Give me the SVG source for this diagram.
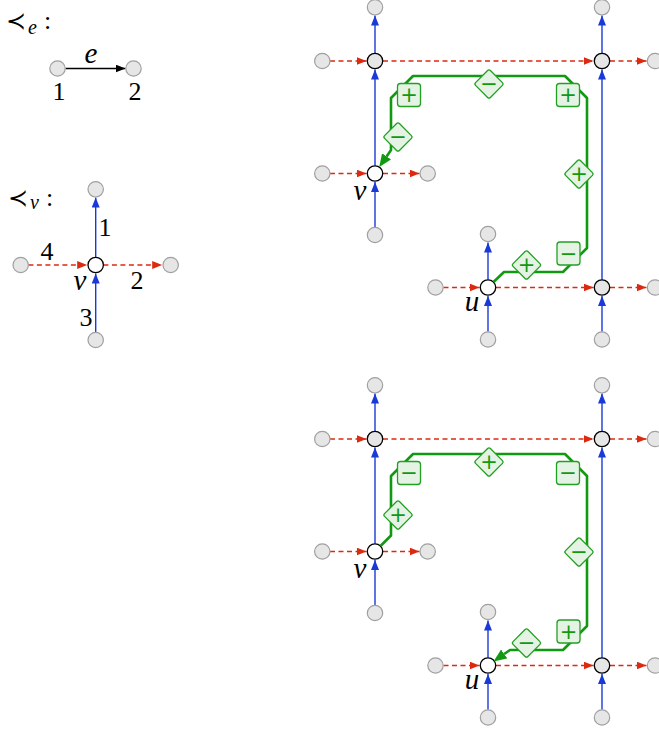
<svg xmlns="http://www.w3.org/2000/svg" width="659" height="733" viewBox="0 0 659 733">
<style>
.g{fill:#e6e6e6;stroke:#a0a0a0;stroke-width:1.2}
.k{fill:#e6e6e6;stroke:#000;stroke-width:1.3}
.w{fill:#fff;stroke:#000;stroke-width:1.3}
.b{stroke:#1a3ad8;stroke-width:1.4;fill:none;marker-end:url(#ab)}
.r{stroke:#dc2a10;stroke-width:1.4;fill:none;stroke-dasharray:5 3.5;marker-end:url(#ar)}
.gp{stroke:#119911;stroke-width:2.6;fill:none;stroke-linejoin:round;marker-end:url(#ag)}
.lb{fill:#e4f3e4;stroke:#22a022;stroke-width:1.3}
.ls{font-family:"DejaVu Sans",sans-serif;font-size:21px;fill:#119911;text-anchor:middle;dominant-baseline:central}
.t{font-family:"Liberation Serif","DejaVu Serif",serif;font-size:26px;fill:#000}
.i{font-family:"Liberation Serif","DejaVu Serif",serif;font-style:italic;font-size:29px;fill:#000}
.m{font-family:"DejaVu Sans",sans-serif;font-size:24px;fill:#000}
</style>
<defs>
<marker id="ab" markerUnits="userSpaceOnUse" markerWidth="12" markerHeight="10" refX="10" refY="4" orient="auto"><path d="M0,0 L10,4 L0,8 z" fill="#1a3ad8"/></marker>
<marker id="ar" markerUnits="userSpaceOnUse" markerWidth="12" markerHeight="10" refX="10" refY="4" orient="auto"><path d="M0,0 L10,4 L0,8 z" fill="#dc2a10"/></marker>
<marker id="ak" markerUnits="userSpaceOnUse" markerWidth="12" markerHeight="10" refX="10" refY="4" orient="auto"><path d="M0,0 L10,4 L0,8 z" fill="#000"/></marker>
<marker id="ag" markerUnits="userSpaceOnUse" markerWidth="15" markerHeight="13" refX="0" refY="5.5" orient="auto"><path d="M0,0 L13,5.5 L0,11 z" fill="#119911"/></marker>
<rect id="sq" x="-11.5" y="-11.5" width="23" height="23" rx="3"/>
<rect id="dm" x="-10.5" y="-10.5" width="21" height="21" rx="2" transform="rotate(45)"/>
</defs>

<!-- Legend e -->
<g id="legend-e">
<text class="m" x="6" y="29">≺</text>
<text class="i" x="28" y="34" style="font-size:20px">e</text>
<text class="t" x="44" y="29">:</text>
</g>
<g id="legend-e-edge"><line x1="65.5" y1="68.5" x2="125.5" y2="68.5" stroke="#000" stroke-width="1.3" marker-end="url(#ak)"/>
<text class="i" x="91" y="63" text-anchor="middle">e</text></g>
<g id="le1"><circle class="g" cx="57.5" cy="68.5" r="7.7"/><text class="t" x="59" y="100" text-anchor="middle">1</text></g>
<g id="le2"><circle class="g" cx="133.5" cy="68.5" r="7.7"/><text class="t" x="135" y="100" text-anchor="middle">2</text></g>

<!-- Legend v -->
<g id="legend-v">
<text class="m" x="8" y="206">≺</text>
<text class="i" x="30" y="209" style="font-size:20px">v</text>
<text class="t" x="46" y="206">:</text>
</g>
<g id="legend-v-edges">
<line class="b" x1="95.7" y1="257.3" x2="95.7" y2="197.5"/>
<line class="b" x1="95.7" y1="332.3" x2="95.7" y2="273.5"/>
<line class="r" x1="28.4" y1="265" x2="87.2" y2="265"/>
<line class="r" x1="103.4" y1="265" x2="162.2" y2="265"/>
<text class="t" x="105" y="236" text-anchor="middle">1</text>
<text class="t" x="47" y="260" text-anchor="middle">4</text>
<text class="t" x="137" y="289" text-anchor="middle">2</text>
<text class="t" x="86" y="326" text-anchor="middle">3</text>
</g>
<g id="lv"><circle class="w" cx="95.7" cy="265" r="7.7"/><text class="i" x="80" y="290" text-anchor="middle">v</text></g>
<g id="lv1"><circle class="g" cx="95.7" cy="189.3" r="7.7"/></g>
<g id="lv4"><circle class="g" cx="20.7" cy="265" r="7.7"/></g>
<g id="lv2"><circle class="g" cx="170.7" cy="265" r="7.7"/></g>
<g id="lv3"><circle class="g" cx="95.7" cy="340" r="7.7"/></g>

<!-- Top diagram connectors -->
<g id="top-connectors">
<line class="b" x1="375" y1="165.8" x2="375" y2="69.5"/>
<line class="b" x1="375" y1="53.3" x2="375" y2="15.5"/>
<line class="b" x1="375" y1="227.3" x2="375" y2="182"/>
<line class="b" x1="488" y1="331.8" x2="488" y2="296"/>
<line class="b" x1="488" y1="279.8" x2="488" y2="242.5"/>
<line class="b" x1="602" y1="331.8" x2="602" y2="296"/>
<line class="b" x1="602" y1="279.8" x2="602" y2="69.5"/>
<line class="b" x1="602" y1="53.3" x2="602" y2="15.5"/>
<line class="r" x1="330" y1="61" x2="366.5" y2="61"/>
<line class="r" x1="383" y1="61" x2="593.5" y2="61"/>
<line class="r" x1="610" y1="61" x2="646.5" y2="61"/>
<line class="r" x1="330" y1="173.5" x2="366.5" y2="173.5"/>
<line class="r" x1="383" y1="173.5" x2="419.5" y2="173.5"/>
<line class="r" x1="443.5" y1="287.5" x2="479.5" y2="287.5"/>
<line class="r" x1="496" y1="287.5" x2="593.5" y2="287.5"/>
<line class="r" x1="610" y1="287.5" x2="646.5" y2="287.5"/>
</g>
<g id="top-nodes">
<g id="t-tl"><circle class="k" cx="375" cy="61" r="7.7"/></g>
<g id="t-tl-up"><circle class="g" cx="375" cy="7.3" r="7.7"/></g>
<g id="t-tl-left"><circle class="g" cx="322.3" cy="61" r="7.7"/></g>
<g id="t-tr"><circle class="k" cx="602" cy="61" r="7.7"/></g>
<g id="t-tr-up"><circle class="g" cx="602" cy="7.3" r="7.7"/></g>
<g id="t-tr-right"><circle class="g" cx="655" cy="61" r="7.7"/></g>
<g id="t-v"><circle class="w" cx="375" cy="173.5" r="7.7"/><text class="i" x="360" y="200" text-anchor="middle">v</text></g>
<g id="t-v-left"><circle class="g" cx="322.3" cy="173.5" r="7.7"/></g>
<g id="t-v-right"><circle class="g" cx="427.7" cy="173.5" r="7.7"/></g>
<g id="t-v-down"><circle class="g" cx="375" cy="235" r="7.7"/></g>
<g id="t-u"><circle class="w" cx="488" cy="287.5" r="7.7"/><text class="i" x="472" y="311" text-anchor="middle">u</text></g>
<g id="t-u-up"><circle class="g" cx="488" cy="234" r="7.7"/></g>
<g id="t-u-left"><circle class="g" cx="435.5" cy="287.5" r="7.7"/></g>
<g id="t-u-down"><circle class="g" cx="488" cy="339.5" r="7.7"/></g>
<g id="t-br"><circle class="k" cx="602" cy="287.5" r="7.7"/></g>
<g id="t-br-right"><circle class="g" cx="655" cy="287.5" r="7.7"/></g>
<g id="t-br-down"><circle class="g" cx="602" cy="339.5" r="7.7"/></g>
</g>
<g id="top-path">
<path class="gp" d="M493.5,282 L504,272 L563,272 L587,248 L587,98 L565,76 L413,76 L391,98 L391,150 L386.6,156.4"/>
<g class="lb"><use href="#sq" x="409" y="95"/><use href="#dm" x="489" y="84"/><use href="#sq" x="568" y="95"/><use href="#dm" x="398" y="137"/><use href="#dm" x="579" y="174"/><use href="#sq" x="568.5" y="253.5"/><use href="#dm" x="526.5" y="265"/></g>
<text class="ls" x="409" y="95">+</text><text class="ls" x="489" y="84">−</text><text class="ls" x="568" y="95">+</text><text class="ls" x="398" y="137">−</text><text class="ls" x="579" y="174">+</text><text class="ls" x="568.5" y="253.5">−</text><text class="ls" x="526.5" y="265">+</text>
</g>

<!-- Bottom diagram connectors -->
<g id="bottom-connectors">
<line class="b" x1="375" y1="543.8" x2="375" y2="447.5"/>
<line class="b" x1="375" y1="431.3" x2="375" y2="393.5"/>
<line class="b" x1="375" y1="605.3" x2="375" y2="560"/>
<line class="b" x1="488" y1="709.8" x2="488" y2="674"/>
<line class="b" x1="488" y1="657.8" x2="488" y2="620.5"/>
<line class="b" x1="602" y1="709.8" x2="602" y2="674"/>
<line class="b" x1="602" y1="657.8" x2="602" y2="447.5"/>
<line class="b" x1="602" y1="431.3" x2="602" y2="393.5"/>
<line class="r" x1="330" y1="439" x2="366.5" y2="439"/>
<line class="r" x1="383" y1="439" x2="593.5" y2="439"/>
<line class="r" x1="610" y1="439" x2="646.5" y2="439"/>
<line class="r" x1="330" y1="551.5" x2="366.5" y2="551.5"/>
<line class="r" x1="383" y1="551.5" x2="419.5" y2="551.5"/>
<line class="r" x1="443.5" y1="665.5" x2="479.5" y2="665.5"/>
<line class="r" x1="496" y1="665.5" x2="593.5" y2="665.5"/>
<line class="r" x1="610" y1="665.5" x2="646.5" y2="665.5"/>
</g>
<g id="bottom-nodes">
<g id="b-tl"><circle class="k" cx="375" cy="439" r="7.7"/></g>
<g id="b-tl-up"><circle class="g" cx="375" cy="385.3" r="7.7"/></g>
<g id="b-tl-left"><circle class="g" cx="322.3" cy="439" r="7.7"/></g>
<g id="b-tr"><circle class="k" cx="602" cy="439" r="7.7"/></g>
<g id="b-tr-up"><circle class="g" cx="602" cy="385.3" r="7.7"/></g>
<g id="b-tr-right"><circle class="g" cx="655" cy="439" r="7.7"/></g>
<g id="b-v"><circle class="w" cx="375" cy="551.5" r="7.7"/><text class="i" x="360" y="578" text-anchor="middle">v</text></g>
<g id="b-v-left"><circle class="g" cx="322.3" cy="551.5" r="7.7"/></g>
<g id="b-v-right"><circle class="g" cx="427.7" cy="551.5" r="7.7"/></g>
<g id="b-v-down"><circle class="g" cx="375" cy="613" r="7.7"/></g>
<g id="b-u"><circle class="w" cx="488" cy="665.5" r="7.7"/><text class="i" x="472" y="689" text-anchor="middle">u</text></g>
<g id="b-u-up"><circle class="g" cx="488" cy="612" r="7.7"/></g>
<g id="b-u-left"><circle class="g" cx="435.5" cy="665.5" r="7.7"/></g>
<g id="b-u-down"><circle class="g" cx="488" cy="717.5" r="7.7"/></g>
<g id="b-br"><circle class="k" cx="602" cy="665.5" r="7.7"/></g>
<g id="b-br-right"><circle class="g" cx="655" cy="665.5" r="7.7"/></g>
<g id="b-br-down"><circle class="g" cx="602" cy="717.5" r="7.7"/></g>
</g>
<g id="bottom-path">
<path class="gp" d="M380.5,546 L391,535.5 L391,476 L413,454 L565,454 L587,476 L587,626 L563,650 L510,650 L504.2,654"/>
<g class="lb"><use href="#sq" x="409" y="473"/><use href="#dm" x="489" y="462"/><use href="#sq" x="568" y="473"/><use href="#dm" x="398" y="515"/><use href="#dm" x="579" y="552"/><use href="#sq" x="568.5" y="631.5"/><use href="#dm" x="526.5" y="643"/></g>
<text class="ls" x="409" y="473">−</text><text class="ls" x="489" y="462">+</text><text class="ls" x="568" y="473">−</text><text class="ls" x="398" y="515">+</text><text class="ls" x="579" y="552">−</text><text class="ls" x="568.5" y="631.5">+</text><text class="ls" x="526.5" y="643">−</text>
</g>
</svg>
